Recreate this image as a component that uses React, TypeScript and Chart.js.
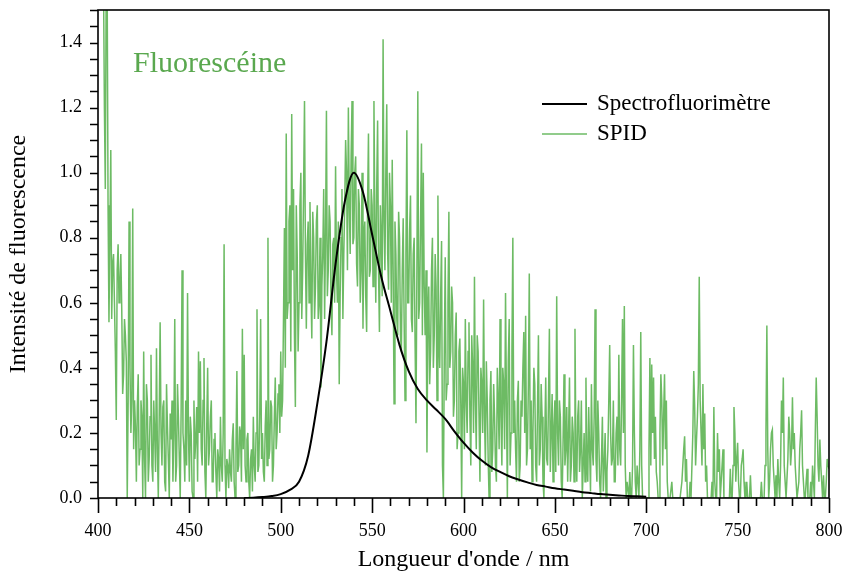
import React, { useEffect, useRef } from "react";
import { Chart, registerables } from "chart.js";

Chart.register(...registerables);

// Spectrofluorimètre (reference spectrum)
const spectroWavelengths = [480, 485, 490, 495, 500, 505, 510, 515, 520, 525, 530, 535, 540, 545, 550, 555, 560, 565, 570, 575, 580, 585, 590, 595, 600, 605, 610, 615, 620, 625, 630, 635, 640, 645, 650, 655, 660, 665, 670, 675, 680, 685, 690, 695, 700];
const spectroValues = [0.0, 0.001, 0.003, 0.006, 0.012, 0.025, 0.05, 0.13, 0.29, 0.48, 0.72, 0.91, 1.0, 0.94, 0.81, 0.68, 0.575, 0.47, 0.39, 0.335, 0.3, 0.272, 0.243, 0.205, 0.17, 0.14, 0.115, 0.095, 0.08, 0.067, 0.057, 0.048, 0.04, 0.035, 0.03, 0.026, 0.022, 0.018, 0.015, 0.012, 0.01, 0.008, 0.006, 0.005, 0.004];

// SPID measurement, one value every 0.5 nm from 400 nm to 800 nm
const spidStart = 400;
const spidStep = 0.5;
const spidValues = [
  1.6,1.6, 1.6,1.6, 1.58,1.6, 1.6,1.2, 0.95,1.6, 1.6,0.9, 0.54,0.8, 1.07,0.55, 0.72,0.75, 0.6,0.45,
  0.24,0.7, 0.78,0.6, 0.66,0.75, 0.58,0.32, 0.38,0.55, 0.5,0.42, 0.0,0.3, 0.85,0.4, 0.2,0.3, 0.89,0.15,
  0.3,0.22, 0.05,0.28, 0.38,0.1, 0.15,0.3, 0.25,0.0, 0.45,0.12, 0.0,0.35, 0.3,0.05, 0.12,0.25, 0.44,0.1,
  0.05,0.3, 0.2,0.08, 0.46,0.15, 0.0,0.25, 0.54,0.2, 0.1,0.28, 0.3,0.05, 0.02,0.35, 0.22,0.12, 0.0,0.26,
  0.18,0.3, 0.05,0.2, 0.55,0.05, 0.1,0.35, 0.25,0.12, 0.0,0.28, 0.7,0.2, 0.15,0.05, 0.3,0.1, 0.63,0.2,
  0.05,0.25, 0.2,0.02, 0.0,0.3, 0.12,0.18, 0.28,0.05, 0.45,0.2, 0.42,0.15, 0.1,0.3, 0.43,0.08, 0.0,0.22,
  0.4,0.1, 0.15,0.25, 0.3,0.05, 0.05,0.18, 0.2,0.08, 0.0,0.15, 0.12,0.02, 0.25,0.1, 0.05,0.2, 0.78,0.1,
  0.0,0.12, 0.1,0.03, 0.15,0.08, 0.05,0.18, 0.23,0.05, 0.0,0.15, 0.39,0.08, 0.1,0.22, 0.2,0.05, 0.52,0.15,
  0.44,0.1, 0.05,0.18, 0.2,0.05, 0.0,0.12, 0.15,0.02, 0.25,0.1, 0.05,0.2, 0.58,0.08, 0.1,0.25, 0.55,0.12,
  0.2,0.08, 0.05,0.22, 0.3,0.1, 0.8,0.12, 0.15,0.3, 0.28,0.05, 0.1,0.25, 0.37,0.15, 0.2,0.32, 0.35,0.2,
  0.45,0.25, 0.3,0.55, 0.83,0.4, 1.12,0.55, 0.6,0.85, 0.9,0.45, 1.18,0.7, 0.95,0.5, 0.28,0.9, 0.75,0.45,
  0.6,0.9, 1.0,0.55, 0.7,0.95, 1.22,0.75, 0.52,0.78, 0.85,0.6, 0.91,0.65, 0.49,0.88, 0.8,0.55, 0.65,0.85,
  0.9,0.55, 0.6,0.8, 0.34,0.65, 0.75,0.95, 0.55,0.8, 1.19,0.62, 0.7,0.9, 0.85,0.6, 0.5,0.78, 0.8,0.6,
  1.02,0.7, 0.6,0.85, 0.35,0.62, 0.8,0.95, 0.55,0.75, 0.9,1.1, 1.0,0.7, 1.2,0.9, 0.75,1.05, 1.22,0.78,
  0.8,1.0, 1.05,0.72, 0.65,0.95, 0.9,0.6, 0.7,1.0, 0.52,0.8, 0.85,0.62, 0.51,0.9, 1.12,0.68, 0.7,0.95,
  0.9,0.65, 1.22,0.85, 0.6,0.95, 1.16,0.7, 0.51,0.9, 0.8,0.62, 1.41,0.85, 0.7,1.0, 1.21,0.75, 0.64,1.0,
  0.9,0.6, 1.04,0.7, 0.29,0.85, 0.75,0.55, 0.5,0.88, 0.8,0.5, 0.45,0.7, 0.86,0.55, 0.3,0.75, 1.13,0.6,
  0.6,0.82, 0.93,0.55, 0.51,0.75, 0.8,0.48, 0.23,0.7, 1.25,0.55, 0.6,0.85, 1.09,0.5, 1.0,0.65, 0.5,0.7,
  0.14,0.55, 0.65,0.35, 0.45,0.7, 0.8,0.4, 0.5,0.75, 0.65,0.3, 0.93,0.5, 0.4,0.62, 0.79,0.1, 0.0,0.45,
  0.74,0.3, 0.35,0.6, 0.88,0.4, 0.45,0.65, 0.6,0.25, 0.3,0.5, 0.57,0.15, 0.2,0.45, 0.49,0.3, 0.0,0.4,
  0.35,0.15, 0.55,0.3, 0.2,0.45, 0.54,0.25, 0.1,0.5, 0.4,0.2, 0.68,0.3, 0.15,0.5, 0.45,0.25, 0.05,0.4,
  0.35,0.2, 0.61,0.25, 0.1,0.42, 0.3,0.12, 0.0,0.3, 0.39,0.08, 0.15,0.35, 0.25,0.1, 0.05,0.4, 0.3,0.15,
  0.55,0.25, 0.1,0.4, 0.35,0.15, 0.63,0.3, 0.0,0.42, 0.55,0.1, 0.2,0.45, 0.8,0.2, 0.3,0.15, 0.05,0.3,
  0.36,0.05, 0.1,0.3, 0.25,0.4, 0.51,0.2, 0.56,0.1, 0.15,0.35, 0.69,0.15, 0.3,0.05, 0.2,0.4, 0.35,0.1,
  0.05,0.28, 0.5,0.1, 0.15,0.35, 0.25,0.05, 0.0,0.2, 0.37,0.12, 0.1,0.3, 0.52,0.08, 0.2,0.32, 0.05,0.22,
  0.3,0.08, 0.62,0.2, 0.1,0.3, 0.25,0.05, 0.0,0.18, 0.38,0.1, 0.15,0.28, 0.05,0.2, 0.37,0.05, 0.1,0.25,
  0.2,0.05, 0.52,0.15, 0.05,0.25, 0.3,0.08, 0.15,0.3, 0.0,0.1, 0.2,0.05, 0.37,0.12, 0.05,0.28, 0.15,0.02,
  0.35,0.15, 0.1,0.25, 0.58,0.12, 0.05,0.3, 0.2,0.05, 0.0,0.12, 0.25,0.02, 0.1,0.2, 0.0,0.08, 0.15,0.3,
  0.47,0.2, 0.1,0.12, 0.3,0.05, 0.05,0.2, 0.25,0.1, 0.44,0.15, 0.1,0.3, 0.55,0.2, 0.59,0.1, 0.0,0.05,
  0.05,0.0, 0.08,0.0, 0.0,0.1, 0.47,0.2, 0.05,0.0, 0.1,0.05, 0.0,0.15, 0.51,0.1, 0.0,0.0, 0.0,0.0,
  0.0,0.0, 0.0,0.15, 0.43,0.1, 0.41,0.2, 0.37,0.12, 0.25,0.08, 0.05,0.0, 0.0,0.2, 0.38,0.3, 0.1,0.25,
  0.38,0.15, 0.3,0.05, 0.0,0.0, 0.0,0.0, 0.05,0.0, 0.0,0.0, 0.0,0.0, 0.0,0.0, 0.0,0.0, 0.0,0.05,
  0.1,0.15, 0.19,0.05, 0.12,0.0, 0.0,0.0, 0.05,0.0, 0.0,0.2, 0.39,0.28, 0.1,0.18, 0.25,0.35, 0.68,0.3,
  0.2,0.1, 0.35,0.15, 0.26,0.05, 0.1,0.0, 0.0,0.0, 0.0,0.0, 0.05,0.0, 0.28,0.05, 0.0,0.0, 0.2,0.08,
  0.15,0.0, 0.05,0.1, 0.15,0.0, 0.0,0.0, 0.0,0.0, 0.0,0.0, 0.09,0.0, 0.0,0.1, 0.28,0.2, 0.05,0.12,
  0.17,0.05, 0.0,0.0, 0.1,0.12, 0.15,0.05, 0.0,0.0, 0.05,0.0, 0.0,0.0, 0.07,0.0, 0.0,0.0, 0.0,0.0,
  0.0,0.0, 0.0,0.0, 0.0,0.0, 0.05,0.0, 0.0,0.0, 0.1,0.2, 0.53,0.15, 0.0,0.05, 0.15,0.2, 0.21,0.1,
  0.05,0.0, 0.07,0.0, 0.12,0.05, 0.0,0.1, 0.3,0.2, 0.37,0.1, 0.05,0.0, 0.0,0.12, 0.25,0.2, 0.1,0.15,
  0.31,0.15, 0.2,0.1, 0.05,0.0, 0.0,0.05, 0.15,0.2, 0.27,0.1, 0.05,0.0, 0.0,0.05, 0.09,0.0, 0.0,0.0,
  0.05,0.0, 0.1,0.05, 0.0,0.2, 0.37,0.25, 0.1,0.05, 0.18,0.1, 0.05,0.0, 0.07,0.0, 0.0,0.05, 0.12,0.1,
  0.09,
];

const seriesLabels = ["Spectrofluorimètre", "SPID"];
const chartTitle = "Fluorescéine";
const xTitle = "Longueur d'onde / nm";
const yTitle = "Intensité de fluorescence";

const FONT = "'Liberation Serif', 'Times New Roman', serif";
const GREEN = "#6dbb64";
const GREEN_TEXT = "#5aa84f";

const decorPlugin = {
  id: "decor",
  afterDraw(chart: any) {
    const { ctx, chartArea } = chart;
    const xs = chart.scales.x;
    const ys = chart.scales.y;
    ctx.save();
    ctx.strokeStyle = "#000";
    ctx.lineWidth = 1.6;
    ctx.strokeRect(chartArea.left, chartArea.top, chartArea.right - chartArea.left, chartArea.bottom - chartArea.top);
    ctx.beginPath();
    for (let v = 400; v <= 800; v += 10) {
      const px = Math.round(xs.getPixelForValue(v)) + 0.5;
      const len = v % 50 === 0 ? 15 : 8;
      ctx.moveTo(px, chartArea.bottom);
      ctx.lineTo(px, chartArea.bottom + len);
    }
    for (let k = 0; k <= 30; k++) {
      const py = Math.round(ys.getPixelForValue(k * 0.05)) + 0.5;
      ctx.moveTo(chartArea.left - 8, py);
      ctx.lineTo(chartArea.left, py);
    }
    ctx.stroke();

    // title text
    ctx.fillStyle = GREEN_TEXT;
    ctx.font = `30px ${FONT}`;
    ctx.textBaseline = "alphabetic";
    ctx.textAlign = "left";
    ctx.fillText(chartTitle, 133, 72);

    // legend
    const colors = ["#000", GREEN];
    const widths = [2, 1.6];
    const rows = [104, 134];
    ctx.font = `23px ${FONT}`;
    ctx.textBaseline = "middle";
    for (let i = 0; i < 2; i++) {
      ctx.strokeStyle = colors[i];
      ctx.lineWidth = widths[i];
      ctx.beginPath();
      ctx.moveTo(542, rows[i]);
      ctx.lineTo(587, rows[i]);
      ctx.stroke();
      ctx.fillStyle = "#000";
      ctx.fillText(chart.data.datasets[i].label, 597, rows[i]);
    }
    ctx.restore();
  },
};

export default function App() {
  const ref = useRef<HTMLCanvasElement>(null);
  useEffect(() => {
    const spectroData = spectroWavelengths.map((w, i) => ({ x: w, y: spectroValues[i] }));
    const spidData = spidValues.map((v, i) => ({ x: spidStart + i * spidStep, y: v }));
    const chart = new Chart(ref.current as HTMLCanvasElement, {
      type: "line",
      data: {
        datasets: [
          {
            label: seriesLabels[0],
            data: spectroData,
            borderColor: "#000",
            borderWidth: 2,
            pointRadius: 0,
            cubicInterpolationMode: "monotone",
            fill: false,
          },
          {
            label: seriesLabels[1],
            data: spidData,
            borderColor: GREEN,
            borderWidth: 1.5,
            pointRadius: 0,
            tension: 0,
            fill: false,
          },
        ],
      },
      options: {
        animation: false,
        responsive: false,
        events: [],
        layout: { padding: { left: 0, right: 21, top: 10, bottom: 0 } },
        plugins: { legend: { display: false }, tooltip: { enabled: false } },
        scales: {
          x: {
            type: "linear",
            min: 400,
            max: 800,
            grid: { display: false, drawTicks: false },
            border: { display: false },
            ticks: {
              stepSize: 50,
              padding: 22,
              color: "#000",
              font: { family: FONT, size: 18 },
              maxRotation: 0,
            },
            title: {
              display: true,
              text: xTitle,
              color: "#000",
              font: { family: FONT, size: 24 },
              padding: { top: 0, bottom: 0 },
            },
            afterFit(scale: any) {
              scale.height = 76;
              scale.paddingLeft = 0;
              scale.paddingRight = 0;
              scale.paddingTop = 0;
              scale.paddingBottom = 0;
            },
          } as any,
          y: {
            type: "linear",
            min: 0,
            max: 1.5,
            grid: { display: false, drawTicks: false },
            border: { display: false },
            ticks: {
              stepSize: 0.2,
              padding: 16,
              color: "#000",
              font: { family: FONT, size: 18 },
              callback: (v: any) => Number(v).toFixed(1),
            },
            afterBuildTicks(scale: any) {
              scale.ticks = scale.ticks.filter((t: any) => t.value <= 1.41);
            },
            title: {
              display: true,
              text: yTitle,
              color: "#000",
              font: { family: FONT, size: 24 },
              padding: { top: 4, bottom: 0 },
            },
            afterFit(scale: any) {
              scale.width = 98;
              scale.paddingLeft = 0;
              scale.paddingRight = 0;
              scale.paddingTop = 0;
              scale.paddingBottom = 0;
            },
          } as any,
        },
      },
      plugins: [decorPlugin],
    });
    return () => chart.destroy();
  }, []);
  return (
    <div style={{ position: "absolute", left: 0, top: 0, width: 850, height: 574, background: "#fff" }}>
      <canvas ref={ref} width={850} height={574} />
    </div>
  );
}
